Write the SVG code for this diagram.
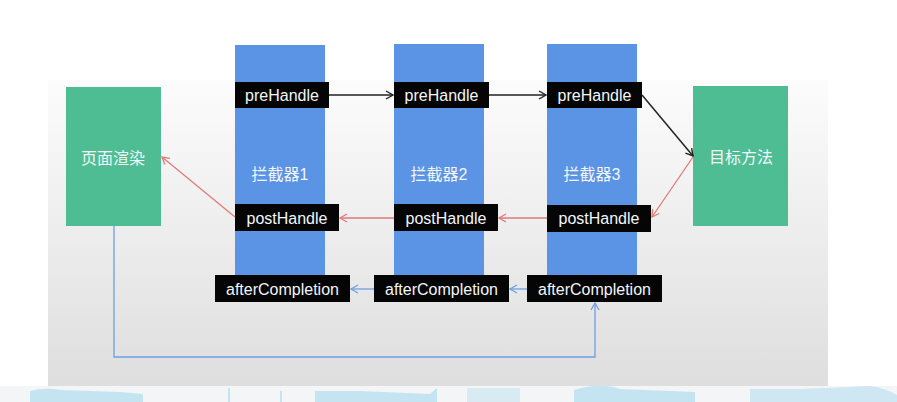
<svg xmlns="http://www.w3.org/2000/svg" width="897" height="402" viewBox="0 0 897 402">
<defs>
<linearGradient id="bg" x1="0" y1="0" x2="0" y2="1">
<stop offset="0" stop-color="#fcfcfc"/>
<stop offset="1" stop-color="#dedede"/>
</linearGradient>
<marker id="aK" markerUnits="userSpaceOnUse" markerWidth="12" markerHeight="12" refX="9" refY="5" orient="auto"><path d="M2,1 L9,5 L2,9" fill="none" stroke="#222" stroke-width="1.4"/></marker>
<marker id="aR" markerUnits="userSpaceOnUse" markerWidth="12" markerHeight="12" refX="9" refY="5" orient="auto"><path d="M2,1 L9,5 L2,9" fill="none" stroke="#e07a7a" stroke-width="1.3"/></marker>
<marker id="aB" markerUnits="userSpaceOnUse" markerWidth="12" markerHeight="12" refX="9" refY="5" orient="auto"><path d="M2,1 L9,5 L2,9" fill="none" stroke="#6f9ee2" stroke-width="1.3"/></marker>
</defs>
<style>
.g{fill:#4fbd93}
.col{fill:#5b94e4}
.lbl{fill:#050505}
.t{font-family:"Liberation Sans","Noto Sans CJK SC",sans-serif;font-size:16px;fill:#f2f6f8;text-anchor:middle;dominant-baseline:central}
.k{fill:none;stroke:#222;stroke-width:1.5}
.r{fill:none;stroke:#e07a7a;stroke-width:1.3}
.b{fill:none;stroke:#6f9ee2;stroke-width:1.3}
.w{fill:#c4e4f2}
</style>
<rect width="897" height="402" fill="#ffffff"/>
<rect x="48" y="80" width="780" height="306" fill="url(#bg)"/>
<rect x="0" y="386" width="897" height="16" fill="#f4f5f6"/>
<g id="strip">
<path class="w" d="M30,402 L30,391 Q45,387 60,390 L120,392 L143,394 L143,402 Z"/>
<rect class="w" x="228" y="388" width="2" height="14"/>
<rect class="w" x="280" y="391" width="2" height="11"/>
<path class="w" d="M315,402 L315,391 L360,391 L430,394 L437,388 L437,402 Z"/>
<path class="w" d="M467,402 L467,388 L520,388 L520,402 Z" opacity="0.6"/>
<path class="w" d="M574,402 L574,390 Q600,382 620,389 L695,392 L695,402 Z"/>
<path class="w" d="M750,402 L750,389 L800,389 Q850,387 870,386 Q885,388 897,395 L897,402 Z" opacity="0.8"/>
</g>
<g id="col1"><rect class="col" x="235" y="45" width="90" height="257"/><text class="t" x="280" y="174">拦截器1</text></g>
<g id="col2"><rect class="col" x="394" y="44" width="90" height="258"/><text class="t" x="439" y="174">拦截器2</text></g>
<g id="col3"><rect class="col" x="547" y="44" width="90" height="258"/><text class="t" x="592" y="174">拦截器3</text></g>
<g id="render"><rect class="g" x="66" y="87" width="95" height="139"/><text class="t" x="113" y="158">页面渲染</text></g>
<g id="target"><rect class="g" x="693" y="86" width="95" height="140"/><text class="t" x="741" y="157">目标方法</text></g>
<g id="pre1"><rect class="lbl" x="235" y="82" width="94" height="26"/><text class="t" x="282" y="95.5">preHandle</text></g>
<g id="pre2"><rect class="lbl" x="394" y="82" width="95" height="26"/><text class="t" x="441.5" y="95.5">preHandle</text></g>
<g id="pre3"><rect class="lbl" x="547" y="82" width="95" height="26"/><text class="t" x="594.5" y="95.5">preHandle</text></g>
<g id="post1"><rect class="lbl" x="235" y="204" width="104" height="27"/><text class="t" x="287" y="218">postHandle</text></g>
<g id="post2"><rect class="lbl" x="394" y="204" width="104" height="27"/><text class="t" x="446" y="218">postHandle</text></g>
<g id="post3"><rect class="lbl" x="547" y="205" width="104" height="27"/><text class="t" x="599" y="218.5">postHandle</text></g>
<g id="after1"><rect class="lbl" x="215" y="275" width="135" height="27"/><text class="t" x="282.5" y="289">afterCompletion</text></g>
<g id="after2"><rect class="lbl" x="374" y="275" width="135" height="27"/><text class="t" x="441.5" y="289">afterCompletion</text></g>
<g id="after3"><rect class="lbl" x="527" y="275" width="135" height="27"/><text class="t" x="594.5" y="289">afterCompletion</text></g>
<g id="connectors">
<line class="k" x1="329" y1="95" x2="393" y2="95" marker-end="url(#aK)"/>
<line class="k" x1="489" y1="95" x2="546" y2="95" marker-end="url(#aK)"/>
<line class="k" x1="642" y1="95" x2="693" y2="156" marker-end="url(#aK)"/>
<line class="r" x1="693" y1="157" x2="652" y2="217" marker-end="url(#aR)"/>
<line class="r" x1="547" y1="218" x2="499" y2="218" marker-end="url(#aR)"/>
<line class="r" x1="394" y1="218" x2="340" y2="218" marker-end="url(#aR)"/>
<line class="r" x1="235" y1="217" x2="162" y2="157" marker-end="url(#aR)"/>
<path class="b" d="M114,226 L114,357 L595,357 L595,303" marker-end="url(#aB)"/>
<line class="b" x1="527" y1="289" x2="510" y2="289" marker-end="url(#aB)"/>
<line class="b" x1="374" y1="289" x2="351" y2="289" marker-end="url(#aB)"/>
</g>
</svg>
